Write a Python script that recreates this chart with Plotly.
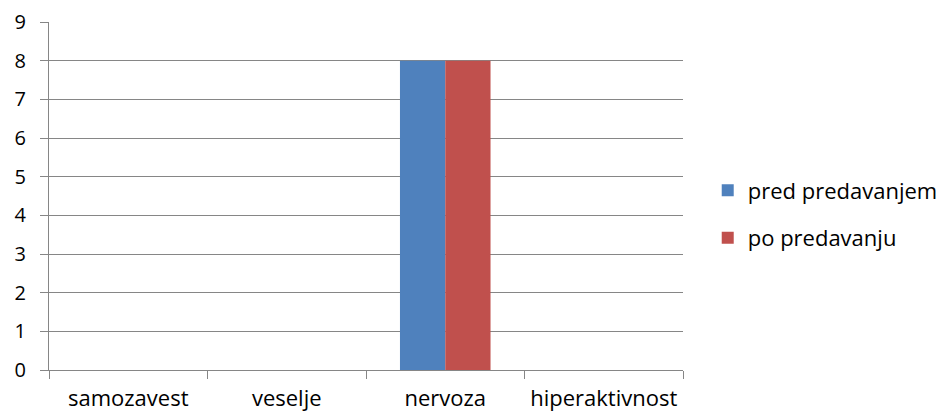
import plotly.graph_objects as go

categories = ["samozavest", "veselje", "nervoza", "hiperaktivnost"]
pred_predavanjem = [0, 0, 8, 0]
po_predavanju = [0, 0, 8, 0]
series_names = ["pred predavanjem", "po predavanju"]
y_ticks = list(range(0, 10))

FONT = "Open Sans"
GRID = "#868686"

fig = go.Figure()
fig.add_trace(go.Bar(x=categories, y=pred_predavanjem, name=series_names[0],
                     marker=dict(color="#4F81BD", line=dict(width=0)), legendgroup="a"))
fig.add_trace(go.Bar(x=categories, y=po_predavanju, name=series_names[1],
                     marker=dict(color="#C0504D", line=dict(width=0)), legendgroup="b"))

fig.update_layout(
    width=948, height=414,
    margin=dict(l=41, r=273, t=14, b=52, autoexpand=False),
    plot_bgcolor="white", paper_bgcolor="white",
    font=dict(family=FONT, size=22, color="black"),
    barmode="group", bargap=0.4286, bargroupgap=0,
    showlegend=True,
    legend=dict(x=1.039, y=0.447, xanchor="left", yanchor="middle",
                font=dict(family=FONT, size=22, color="black"),
                traceorder="grouped", tracegroupgap=16,
                itemwidth=30),
    xaxis=dict(showline=True, linecolor=GRID, linewidth=1, ticks="outside",
               tickson="boundaries", ticklen=8, tickcolor=GRID, tickwidth=1,
               showgrid=False, tickfont=dict(family=FONT, size=22),
               tickangle=0, ticklabelstandoff=9, automargin=False),
    yaxis=dict(range=[0, 9], tickvals=y_ticks, showgrid=True, gridcolor=GRID,
               gridwidth=1, showline=True, linecolor=GRID, linewidth=1,
               ticks="outside", ticklen=8, tickcolor=GRID, zeroline=False,
               tickfont=dict(family=FONT, size=20), ticklabelstandoff=10,
               automargin=False),
)

fig.write_html("out.html")
